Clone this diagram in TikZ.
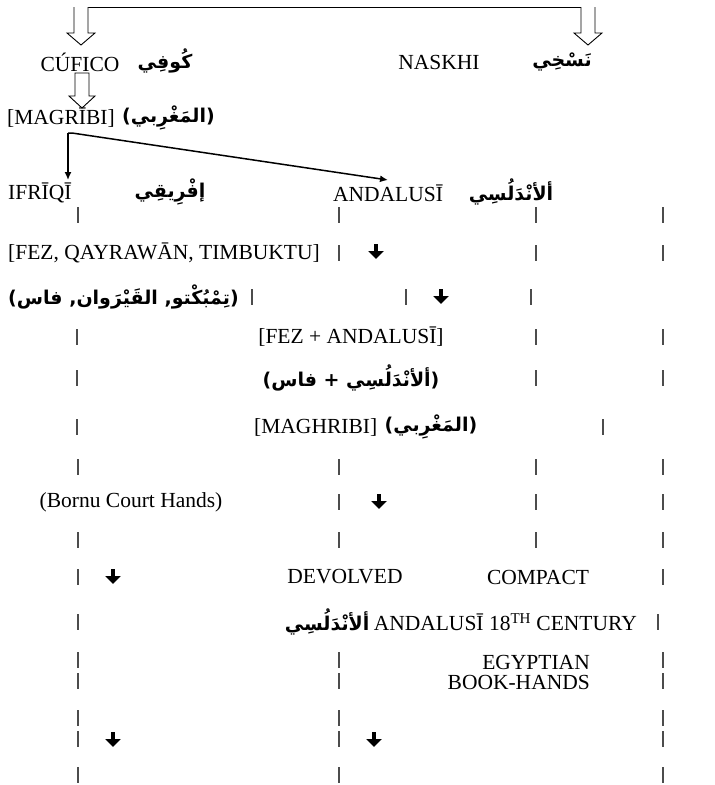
\documentclass[tikz,border=0pt]{standalone}
\usepackage{fontspec}
\setmainfont{Liberation Serif}
\newfontfamily\arabicfont[Script=Arabic]{DejaVu Sans}
\newfontfamily\parenfont{DejaVu Sans}
\TeXXeTstate=1
\usetikzlibrary{arrows.meta,positioning}

\tikzset{
  latin/.style={font=\fontsize{21.5}{24}\selectfont, inner sep=0pt},
  arabic/.style={font=\arabicfont\bfseries\fontsize{19}{22}\selectfont, inner sep=0pt},
  hollow/.style={line width=0.9pt, fill=white, line join=miter},
  branch/.style={line width=1.5pt, -{Latex[length=8pt,width=7pt]}},
  guide/.style={line width=1.1pt, black!70},
  drop/.style={line width=4.5pt, -{Triangle[width=15pt,length=8pt]}}
}

\begin{document}
\begin{tikzpicture}[x=1pt, y=-1pt]
  \useasboundingbox (0,0) rectangle (715,785);

  % the two scripts at the top
  \draw[hollow] (74,7) -- (595,7);
  \draw[hollow] (74,7) -- (74,33) -- (67,33) -- (81,45) -- (95,33) -- (88,33) -- (88,7);
  \draw[hollow] (581,7) -- (581,33) -- (574,33) -- (588,45) -- (602,33) -- (595,33) -- (595,7);
  \node[latin] (cufico) at (80,62) {CÚFICO};
  \node[arabic] (kufi) at (165,61) {\beginR كُوفِي\endR};
  \node[latin] (naskhi) at (439,62) {NASKHI};
  \node[arabic] (naskhiar) at (562,62) {\beginR نَسْخِي\endR};

  % cufico down to magribi
  \draw[hollow] (75,73) -- (75,96) -- (69,96) -- (82,108) -- (95,96) -- (89,96) -- (89,73) -- cycle;
  \node[latin, anchor=west] (magribi) at (7,118) {[MAGRĪBI]};
  \node[arabic, right=7pt of magribi] (magribiar) {{\parenfont(}\beginR المَغْرِبي\endR{\parenfont)}};

  % magribi splits in two
  \coordinate (split) at (68,133);
  \coordinate (ifriqitip) at (68,180);
  \coordinate (andalusitip) at (388,180);
  \draw[branch] (split) -- (ifriqitip);
  \draw[branch] (split) -- ++(4,0) -- (andalusitip);
  \node[latin, anchor=west] (ifriqi) at (8,193) {IFRĪQĪ};
  \node[arabic] (ifriqiar) at (170,192) {\beginR إفْرِيقِي\endR};
  \node[latin] (andalusi) at (388,193) {ANDALUSĪ};
  \node[arabic] (andalusiar) at (511,192) {\beginR ألأنْدَلُسِي\endR};

  % cities
  \node[latin, anchor=west] (cities) at (8,253) {[FEZ, QAYRAWĀN, TIMBUKTU]};
  \node[arabic, anchor=west] (citiesar) at (8,297) {{\parenfont(}\beginR تِمْبُكْتو, القَيْرَوان, فاس\endR{\parenfont)}};

  % fez and andalusi together
  \node[latin] (fezand) at (351,337) {[FEZ + ANDALUSĪ]};
  \node[arabic] (fezandar) at (351,378) {{\parenfont(}\beginR ألأنْدَلُسِي + فاس\endR{\parenfont)}};

  % maghribi
  \node[latin, anchor=west] (maghribi) at (254,427) {[MAGHRIBI]};
  \node[arabic, right=7pt of maghribi] (maghribiar) {{\parenfont(}\beginR المَغْرِبي\endR{\parenfont)}};

  % later hands
  \node[latin] (bornu) at (131,502) {(Bornu Court Hands)};
  \node[latin] (devolved) at (345,577) {DEVOLVED};
  \node[latin] (compact) at (538,577) {COMPACT};
  \node[latin, anchor=east] (century) at (637,622) {ANDALUSĪ 18\textsuperscript{TH} CENTURY};
  \node[arabic, left=4pt of century] (centuryar) {\beginR ألأنْدَلُسِي\endR};
  \node[latin, anchor=east, align=right] (egyptian) at (590,672) {EGYPTIAN\\[-4pt]BOOK-HANDS};

  % vertical strokes
  \foreach \x/\y in {78/215, 339/215, 536/215, 663/215,
                     339/253, 536/253, 663/253,
                     252/297, 406/297, 531/297,
                     77/337, 536/337, 663/337,
                     77/378, 536/378, 663/378,
                     77/427, 603/427,
                     78/467, 339/467, 536/467, 663/467,
                     339/502, 536/502, 663/502,
                     78/540, 339/540, 536/540, 663/540,
                     78/577, 663/577,
                     78/622, 658/622,
                     78/660, 339/660, 663/660,
                     78/681, 339/681, 663/681,
                     78/718, 339/718, 663/718,
                     78/739, 339/739, 663/739,
                     78/775, 339/775, 663/775}
    \draw[guide] (\x,\y-8) -- (\x,\y+8);

  % small down arrows
  \foreach \x/\y in {376/252, 441/297, 379/502, 113/577, 113/740, 374/740}
    \draw[drop] (\x,\y-8) -- (\x,\y+7);
\end{tikzpicture}
\end{document}
